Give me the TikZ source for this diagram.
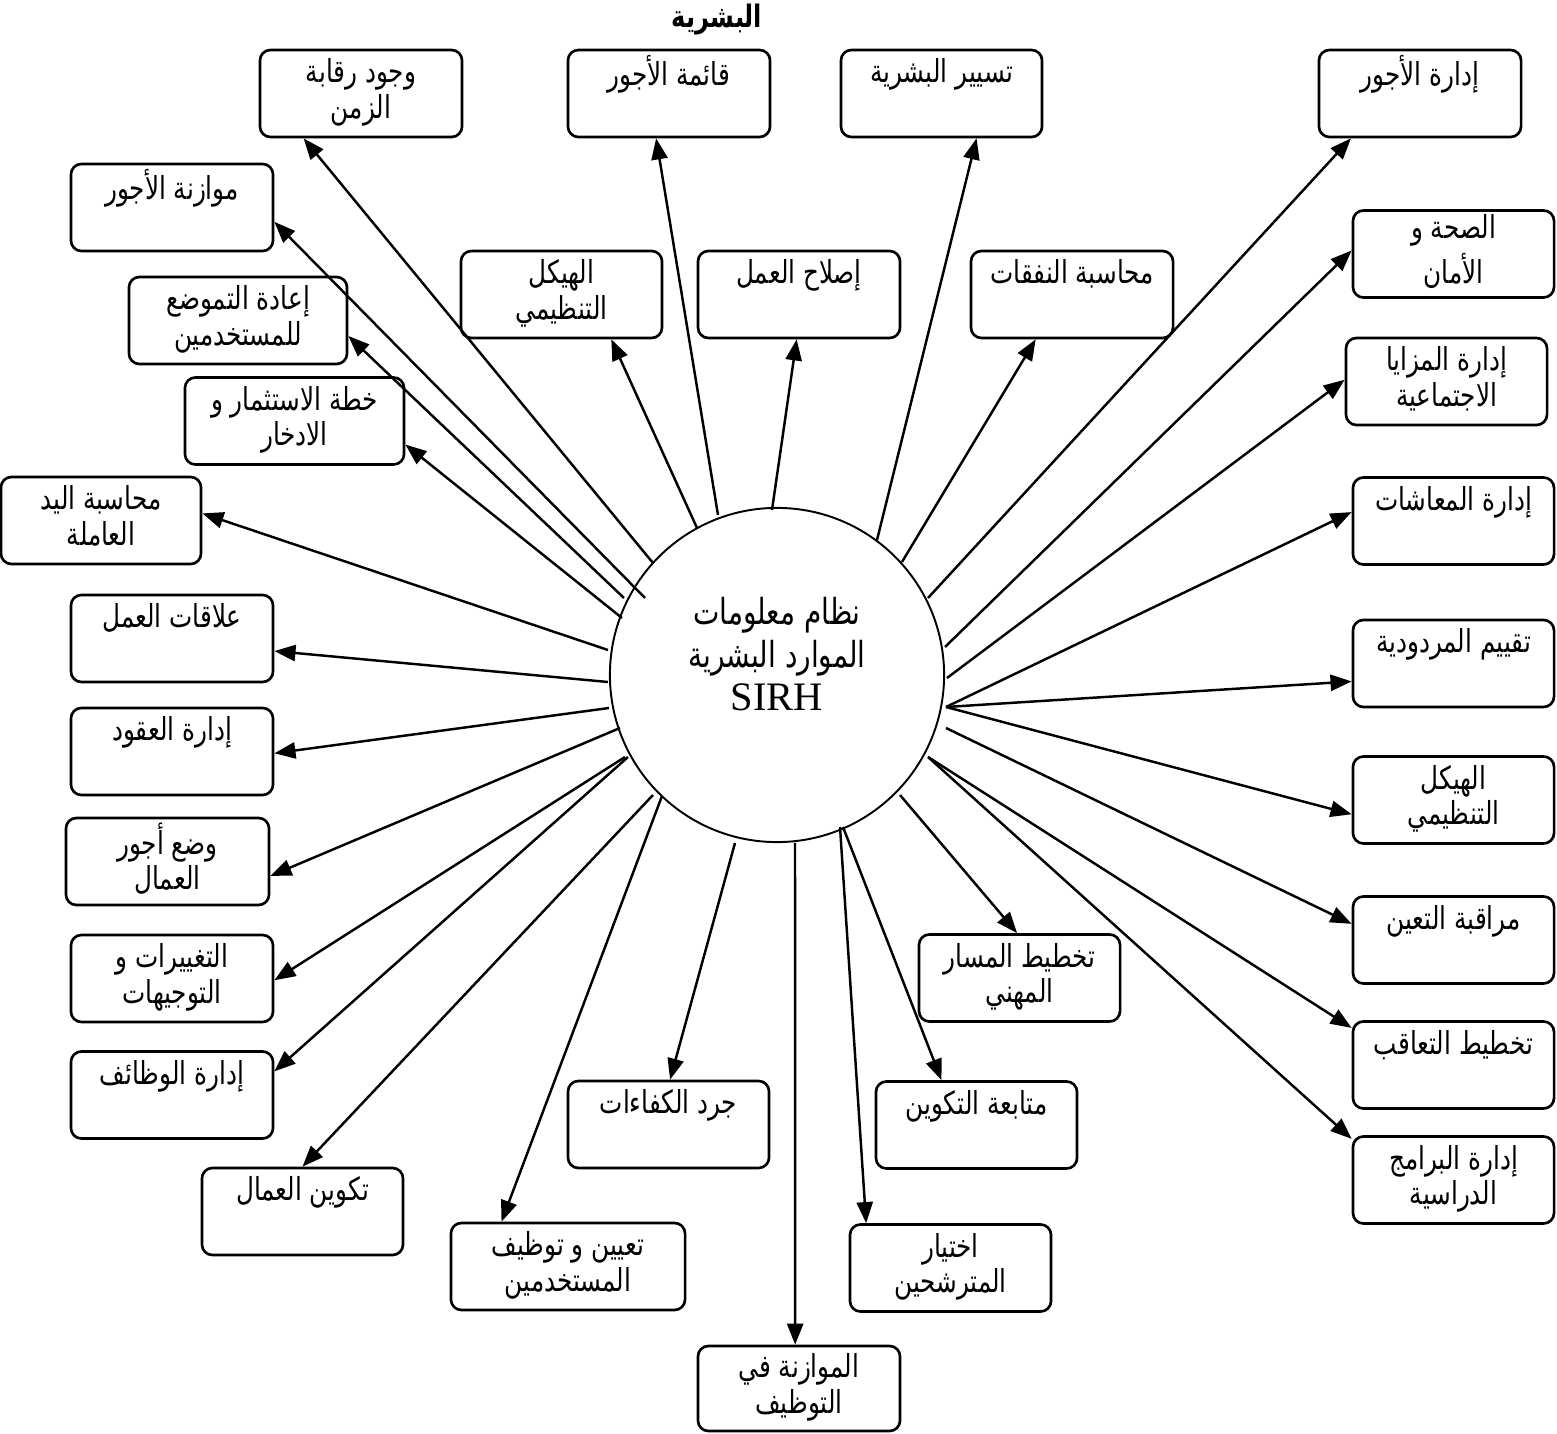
\documentclass[tikz,border=0pt]{standalone}
\usepackage{fontspec}
\usetikzlibrary{arrows.meta}
\TeXXeTstate=1
\newfontfamily\arabicfont[Script=Arabic, FakeStretch=0.78]{DejaVu Sans}
\newfontfamily\latinserif{Liberation Serif}
% one right-to-left line of Arabic with a strut for even line spacing
\newcommand{\artext}[1]{\strut\beginR #1\endR}
\newcommand{\boxfont}{\fontsize{9}{10}\selectfont\arabicfont}

\begin{document}
\begin{tikzpicture}[x=0.01cm,y=-0.01cm,
  infobox/.style={draw, rounded corners=3pt, line width=0.75pt, inner sep=0pt,
    align=center, font=\boxfont, minimum width=2.02cm, minimum height=0.87cm},
  link/.style={line width=0.7pt, -{Triangle[length=6pt,width=4.6pt]}},
]
\useasboundingbox (0,0) rectangle (1557,1434);

% central system
\node[draw, circle, line width=0.55pt, minimum size=3.34cm, inner sep=0pt] (sirh) at (777,675) {};
\node[align=center, font=\fontsize{10.2}{12.2}\selectfont, inner sep=0pt] (sirhtext) at (sirh.center |- 0,659)
  {{\arabicfont\artext{نظام معلومات}}\\{\arabicfont\artext{الموارد البشرية}}\\{\fontsize{11.5}{12.2}\selectfont\latinserif\strut SIRH}};

\node[font=\fontsize{8.8}{10}\selectfont\arabicfont\bfseries, inner sep=0pt] (title) at (717,20) {\beginR البشرية\endR};

% modules
\node[infobox] (b1) at (361,93.5) {\artext{وجود رقابة}\\\artext{الزمن}};
\node[infobox] (b2) at (172,207.5) {\artext{موازنة الأجور}\\\strut};
\node[infobox, minimum width=2.18cm] (b3) at (238,320.5) {\artext{إعادة التموضع}\\\artext{للمستخدمين}};
\node[infobox, minimum width=2.19cm] (b4) at (294.5,421) {\artext{خطة الاستثمار و}\\\artext{الادخار}};
\node[infobox, minimum width=2.00cm] (b5) at (101,520.5) {\artext{محاسبة اليد}\\\artext{العاملة}};
\node[infobox] (b6) at (172,638.5) {\artext{علاقات العمل}\\\strut};
\node[infobox] (b7) at (172,751.5) {\artext{إدارة العقود}\\\strut};
\node[infobox, minimum width=2.03cm] (b8) at (167.5,861.5) {\artext{وضع أجور}\\\artext{العمال}};
\node[infobox] (b9) at (172,978.5) {\artext{التغييرات و}\\\artext{التوجيهات}};
\node[infobox] (b10) at (172,1095) {\artext{إدارة الوظائف}\\\strut};
\node[infobox, minimum width=2.01cm] (b11) at (302.5,1211.5) {\artext{تكوين العمال}\\\strut};
\node[infobox, minimum width=2.34cm] (b12) at (568,1266.5) {\artext{تعيين و توظيف}\\\artext{المستخدمين}};
\node[infobox, minimum width=2.01cm] (b13) at (668.5,1124.5) {\artext{جرد الكفاءات}\\\strut};
\node[infobox, minimum height=0.85cm] (b14) at (799,1388.5) {\artext{الموازنة في}\\\artext{التوظيف}};
\node[infobox, minimum width=2.01cm] (b15) at (950.5,1268) {\artext{اختيار}\\\artext{المترشحين}};
\node[infobox, minimum width=2.01cm] (b16) at (976.5,1125) {\artext{متابعة التكوين}\\\strut};
\node[infobox, minimum width=2.01cm] (b17) at (1019.5,978) {\artext{تخطيط المسار}\\\artext{المهني}};
\node[infobox, minimum width=2.01cm] (b18) at (561.5,294.5) {\artext{الهيكل}\\\artext{التنظيمي}};
\node[infobox] (b19) at (799,294.5) {\artext{إصلاح العمل}\\\strut};
\node[infobox] (b20) at (1072,294.5) {\artext{محاسبة النفقات}\\\strut};
\node[infobox] (b21) at (669,93.5) {\artext{قائمة الأجور}\\\strut};
\node[infobox, minimum width=2.01cm] (b22) at (941.5,93.5) {\artext{تسيير البشرية}\\\strut};
\node[infobox] (b23) at (1420,93.5) {\artext{إدارة الأجور}\\\strut};
\node[infobox, minimum width=2.01cm] (b24) at (1453.5,254) {\artext{الصحة و}\\\artext{الأمان}};
\node[infobox, minimum width=2.01cm] (b25) at (1446.5,381.5) {\artext{إدارة المزايا}\\\artext{الاجتماعية}};
\node[infobox, minimum width=2.01cm] (b26) at (1453.5,521) {\artext{إدارة المعاشات}\\\strut};
\node[infobox, minimum width=2.01cm] (b27) at (1453.5,663.5) {\artext{تقييم المردودية}\\\strut};
\node[infobox, minimum width=2.01cm] (b28) at (1453.5,800) {\artext{الهيكل}\\\artext{التنظيمي}};
\node[infobox, minimum width=2.01cm] (b29) at (1453.5,940) {\artext{مراقبة التعين}\\\strut};
\node[infobox, minimum width=2.01cm] (b30) at (1453.5,1065) {\artext{تخطيط التعاقب}\\\strut};
\node[infobox, minimum width=2.01cm] (b31) at (1453.5,1180) {\artext{إدارة البرامج}\\\artext{الدراسية}};

% points where the links leave the circle
\coordinate (s1) at (653,563);
\coordinate (s2) at (645,598);
\coordinate (s3) at (624,598);
\coordinate (s4) at (622,618);
\coordinate (s5) at (608,650);
\coordinate (s6) at (608,682);
\coordinate (s7) at (609,708);
\coordinate (s8) at (620,728);
\coordinate (s9) at (625,757);
\coordinate (s10) at (628,757);
\coordinate (s11) at (653,795);
\coordinate (s12) at (662,796);
\coordinate (s13) at (735,843);
\coordinate (s14) at (795,843);
\coordinate (s15) at (840,827);
\coordinate (s16) at (843,827);
\coordinate (s17) at (900,795);
\coordinate (s18) at (697,528);
\coordinate (s19) at (772,510);
\coordinate (s20) at (902,562);
\coordinate (s21) at (718,515);
\coordinate (s22) at (877,540);
\coordinate (s23) at (928,598);
\coordinate (s24) at (945,647);
\coordinate (s25) at (947,678);
\coordinate (s26) at (946,707);
\coordinate (s29) at (946,728);
\coordinate (s30) at (928,757);

% links
\draw[link] (s1) -- (b1.-142.2);
\draw[link] (s2) -- (b2.-8.2);
\draw[link] (s3) -- (b3.-8.6);
\draw[link] (s4) -- (b4.-12.9);
\draw[link] (s5) -- (b5.4.3);
\draw[link] (s6) -- (b6.-7.1);
\draw[link] (s7) -- (b7.-1.4);
\draw[link] (s8) -- (b8.-8.1);
\draw[link] (s9) -- (b9.-1.4);
\draw[link] (s10) -- (b10.13.9);
\draw[link] (s11) -- (b11.90);
\draw[link] (s12) -- (b12.146);
\draw[link] (s13) -- (b13.88);
\draw[link] (s14) -- (b14.95.4);
\draw[link] (s15) -- (b15.152.8);
\draw[link] (s16) -- (b16.128.7);
\draw[link] (s17) -- (b17.93.3);
\draw[link] (s18) -- (b18.-42.5);
\draw[link] (s19) -- (b19.-93.8);
\draw[link] (s20) -- (b20.-129.7);
\draw[link] (s21) -- (b21.-106.8);
\draw[link] (s22) -- (b22.-52.4);
\draw[link] (s23) -- (b23.-147.6);
\draw[link] (s24) -- (b24.178.9);
\draw[link] (s25) -- (b25.179);
\draw[link] (s26) -- (b26.175.6);
\draw[link] (s26) -- (b27.190.7);
\draw[link] (s26) -- (b28.188.3);
\draw[link] (s29) -- (b29.171);
\draw[link] (s30) -- (b30.160);
\draw[link] (s30) -- (b31.158.4);
\end{tikzpicture}
\end{document}
